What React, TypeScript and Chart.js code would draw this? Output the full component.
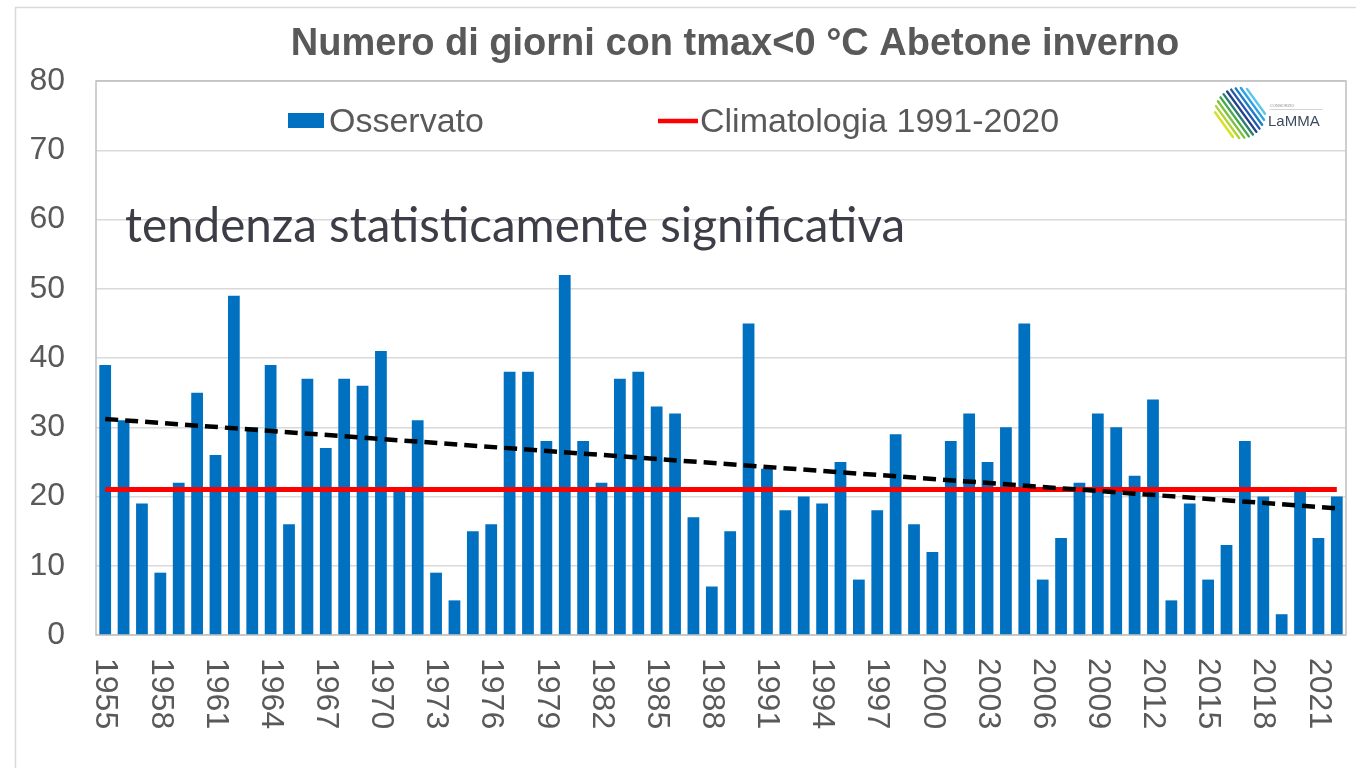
import React, { useEffect, useRef } from 'react';
import { Chart, registerables } from 'chart.js';

Chart.register(...registerables);

const FONT = '"Liberation Sans", Arial, sans-serif';

const chartTitle = 'Numero di giorni con tmax<0 °C Abetone inverno';
const annotationText = 'tendenza statisticamente significativa';
const legendObserved = 'Osservato';
const legendClimatology = 'Climatologia 1991-2020';

const years = [
  1955, 1956, 1957, 1958, 1959, 1960, 1961, 1962, 1963, 1964,
  1965, 1966, 1967, 1968, 1969, 1970, 1971, 1972, 1973, 1974,
  1975, 1976, 1977, 1978, 1979, 1980, 1981, 1982, 1983, 1984,
  1985, 1986, 1987, 1988, 1989, 1990, 1991, 1992, 1993, 1994,
  1995, 1996, 1997, 1998, 1999, 2000, 2001, 2002, 2003, 2004,
  2005, 2006, 2007, 2008, 2009, 2010, 2011, 2012, 2013, 2014,
  2015, 2016, 2017, 2018, 2019, 2020, 2021, 2022,
];

const observed = [
  39, 31, 19, 9, 22, 35, 26, 49, 30, 39,
  16, 37, 27, 37, 36, 41, 21, 31, 9, 5,
  15, 16, 38, 38, 28, 52, 28, 22, 37, 38,
  33, 32, 17, 7, 15, 45, 24, 18, 20, 19,
  25, 8, 18, 29, 16, 12, 28, 32, 25, 30,
  45, 8, 14, 22, 32, 30, 23, 34, 5, 19,
  8, 13, 28, 20, 3, 21, 14, 20,
];

const xTickLabels = [
  '1955', '1958', '1961', '1964', '1967', '1970', '1973', '1976', '1979', '1982',
  '1985', '1988', '1991', '1994', '1997', '2000', '2003', '2006', '2009', '2012',
  '2015', '2018', '2021',
];

const climatologyValue = 21;
const trendStart = 31.2;
const trendEnd = 18.3;

const yMin = 0;
const yMax = 80;
const yStep = 10;

const lastIndex = years.length - 1;
const climatologyData = years.map((_, i) => (i === 0 || i === lastIndex ? climatologyValue : null));
const trendData = years.map((_, i) => (i === 0 ? trendStart : i === lastIndex ? trendEnd : null));

function drawLogo(ctx: CanvasRenderingContext2D) {
  const cx = 1240;
  const cy = 113;
  const colors = ['#d8e021', '#b2d235', '#7cc242', '#45a94a', '#2d7f6d', '#25408f', '#2359a8', '#1f7cc6', '#2aa3e0', '#5cc6ee'];
  const theta = (54 * Math.PI) / 180;
  const dx = Math.cos(theta);
  const dy = Math.sin(theta);
  const nx = dy;
  const ny = -dx;
  const R = 25;
  const gap = 4.4;
  ctx.save();
  ctx.lineWidth = 2.4;
  ctx.lineCap = 'round';
  colors.forEach((c, i) => {
    const off = (i - (colors.length - 1) / 2) * gap;
    const half = Math.sqrt(Math.max(R * R - off * off, 0));
    const px = cx + nx * off;
    const py = cy + ny * off;
    ctx.strokeStyle = c;
    ctx.beginPath();
    ctx.moveTo(px - dx * half, py - dy * half);
    ctx.lineTo(px + dx * half, py + dy * half);
    ctx.stroke();
  });
  ctx.fillStyle = '#8a8a8a';
  ctx.font = `4px ${FONT}`;
  ctx.textAlign = 'left';
  ctx.textBaseline = 'alphabetic';
  ctx.fillText('CONSORZIO', 1270, 107);
  ctx.strokeStyle = '#c8c8c8';
  ctx.lineWidth = 0.8;
  ctx.beginPath();
  ctx.moveTo(1270, 109.5);
  ctx.lineTo(1322, 109.5);
  ctx.stroke();
  ctx.fillStyle = '#3e4a5e';
  ctx.font = `15px ${FONT}`;
  ctx.fillText('LaMMA', 1268, 126);
  ctx.restore();
}

const decorPlugin = {
  id: 'decor',
  beforeDraw(chart: any) {
    const { ctx, width, height } = chart;
    ctx.save();
    ctx.fillStyle = '#ffffff';
    ctx.fillRect(0, 0, width, height);
    ctx.strokeStyle = '#d9d9d9';
    ctx.lineWidth = 1.5;
    ctx.strokeRect(15.5, 7.5, width + 40, height + 40);
    ctx.restore();
  },
  beforeDatasetsDraw(chart: any) {
    const { ctx, chartArea: a } = chart;
    ctx.save();
    ctx.strokeStyle = '#bfbfbf';
    ctx.lineWidth = 1.5;
    ctx.strokeRect(a.left, a.top, a.right - a.left, a.bottom - a.top);
    ctx.restore();
  },
  afterDraw(chart: any) {
    const { ctx } = chart;
    const xs = chart.scales.x;
    ctx.save();

    // title
    ctx.fillStyle = '#595959';
    ctx.font = `bold 38px ${FONT}`;
    ctx.textAlign = 'center';
    ctx.textBaseline = 'alphabetic';
    ctx.fillText(chartTitle, 735, 55);

    // legend
    ctx.fillStyle = '#0070c0';
    ctx.fillRect(288, 113, 36, 15);
    ctx.fillStyle = '#595959';
    ctx.font = `34px ${FONT}`;
    ctx.textAlign = 'left';
    ctx.fillText(legendObserved, 329, 132);
    ctx.strokeStyle = '#ff0000';
    ctx.lineWidth = 4.5;
    ctx.beginPath();
    ctx.moveTo(658, 121);
    ctx.lineTo(698, 121);
    ctx.stroke();
    ctx.fillText(legendClimatology, 700, 132);

    // annotation
    ctx.fillStyle = '#3d3d47';
    ctx.font = `100px Lato, "Noto Sans", sans-serif`;
    const w100 = ctx.measureText(annotationText).width;
    const size = (100 * 780) / w100;
    ctx.font = `${size.toFixed(2)}px Lato, "Noto Sans", sans-serif`;
    ctx.fillText(annotationText, 125, 242);

    // x tick labels (rotated clockwise)
    ctx.fillStyle = '#595959';
    ctx.font = `32px ${FONT}`;
    ctx.textAlign = 'left';
    ctx.textBaseline = 'middle';
    xTickLabels.forEach((lbl) => {
      const idx = years.indexOf(Number(lbl));
      const x = xs.getPixelForValue(idx);
      ctx.save();
      ctx.translate(x, 658);
      ctx.rotate(Math.PI / 2);
      ctx.fillText(lbl, 0, 0);
      ctx.restore();
    });

    drawLogo(ctx);
    ctx.restore();
  },
};

export default function App() {
  const canvasRef = useRef<HTMLCanvasElement | null>(null);

  useEffect(() => {
    if (!canvasRef.current) return;
    const chart = new Chart(canvasRef.current, {
      type: 'bar',
      data: {
        labels: years.map(String),
        datasets: [
          {
            type: 'line',
            label: 'Tendenza',
            data: trendData,
            borderColor: '#000000',
            borderWidth: 4.5,
            borderDash: [13, 7],
            pointRadius: 0,
            spanGaps: true,
            order: 0,
          } as any,
          {
            type: 'line',
            label: legendClimatology,
            data: climatologyData,
            borderColor: '#ff0000',
            borderWidth: 5,
            pointRadius: 0,
            spanGaps: true,
            order: 1,
          } as any,
          {
            type: 'bar',
            label: legendObserved,
            data: observed,
            backgroundColor: '#0070c0',
            barPercentage: 0.64,
            categoryPercentage: 1,
            order: 2,
          } as any,
        ],
      },
      options: {
        responsive: false,
        animation: false,
        layout: { padding: { top: 81, right: 10, bottom: 0, left: 0 } },
        plugins: {
          legend: { display: false },
          title: { display: false },
          tooltip: { enabled: false },
        },
        scales: {
          x: {
            offset: true,
            grid: { display: false },
            border: { display: false },
            ticks: { display: false },
            afterFit: (s: any) => {
              s.height = 133;
            },
          },
          y: {
            min: yMin,
            max: yMax,
            ticks: {
              stepSize: yStep,
              font: { family: FONT, size: 32 },
              color: '#595959',
              padding: 31,
            },
            grid: { color: '#d9d9d9', drawTicks: false, lineWidth: 1.5 },
            border: { display: false },
            afterFit: (s: any) => {
              s.width = 96;
            },
          },
        },
      } as any,
      plugins: [decorPlugin],
    });
    return () => chart.destroy();
  }, []);

  return (
    <div style={{ position: 'absolute', left: 0, top: 0, width: 1356, height: 768 }}>
      <canvas ref={canvasRef} width={1356} height={768} style={{ display: 'block' }} />
    </div>
  );
}
